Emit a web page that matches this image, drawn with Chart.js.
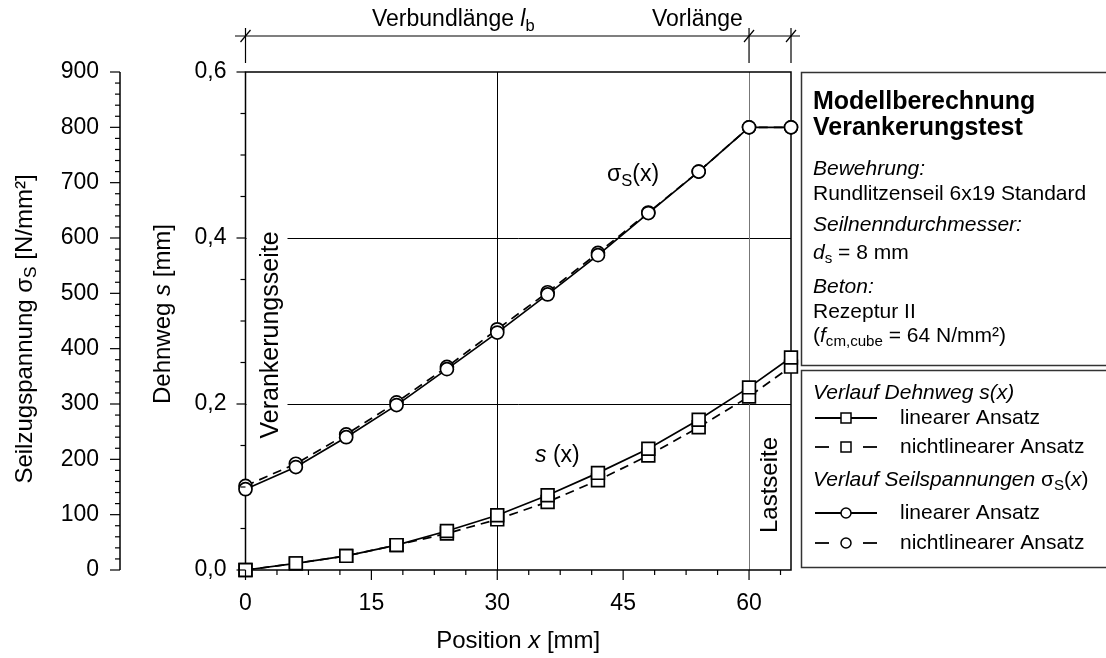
<!DOCTYPE html>
<html><head><meta charset="utf-8">
<script src="https://cdn.jsdelivr.net/npm/chart.js@4/dist/chart.umd.min.js"></script>
<style>html,body{margin:0;padding:0;background:#fff}#wrap{width:1106px;height:658px}</style>
</head><body><div id="wrap"><canvas id="c" width="1106" height="658"></canvas></div>
<script>
const FAMILY = '"Liberation Sans", Arial, Helvetica, sans-serif';

// ---- data ----
const positions        = [0, 6, 12, 18, 24, 30, 36, 42, 48, 54, 60, 65];
const dehnwegLinear    = [0, 0.008, 0.017, 0.030, 0.047, 0.066, 0.090, 0.117, 0.146, 0.181, 0.220, 0.256];
const dehnwegNonlinear = [0, 0.008, 0.017, 0.030, 0.044, 0.061, 0.082, 0.108, 0.138, 0.172, 0.209, 0.245];
const stressLinear     = [146, 186, 240, 298, 363, 429, 498, 569, 645, 720, 800, 800];
const stressNonlinear  = [152, 192, 245, 303, 367, 435, 502, 573, 646, 720, 800, 800];
const xTickValues       = [0, 15, 30, 45, 60];
const dehnwegTickValues = [0, 0.2, 0.4, 0.6];
const stressTickValues  = [0, 100, 200, 300, 400, 500, 600, 700, 800, 900];
const gridXValues = [30, 60];
const gridYValues = [0.2, 0.4];
const dimensionMarks = [0, 60, 65];

function pts(vals) { return positions.map((x, i) => ({ x: x, y: vals[i] })); }

// ---- helpers ----
function fontStr(st, size) {
  return (st.includes('i') ? 'italic ' : '') + (st.includes('b') ? 'bold ' : '') +
    (st.includes('s') ? size * 0.72 : size) + 'px ' + FAMILY;
}
function richWidth(ctx, parts, size) {
  let w = 0;
  parts.forEach(p => { ctx.font = fontStr(p[1] || '', size); w += ctx.measureText(p[0]).width; });
  return w;
}
function drawRich(ctx, x, y, parts, size, align) {
  const w = richWidth(ctx, parts, size);
  if (align === 'center') x -= w / 2;
  ctx.textBaseline = 'middle';
  ctx.textAlign = 'left';
  ctx.fillStyle = '#000';
  parts.forEach(p => {
    const st = p[1] || '';
    ctx.font = fontStr(st, size);
    const dy = st.includes('s') ? size * 0.28 : 0;
    ctx.fillText(p[0], x, y + dy);
    x += ctx.measureText(p[0]).width;
  });
}
function line(ctx, x1, y1, x2, y2) {
  ctx.beginPath(); ctx.moveTo(x1, y1); ctx.lineTo(x2, y2); ctx.stroke();
}

const deco = {
  id: 'deco',
  beforeDatasetsDraw(chart) {
    const { ctx, chartArea: ca, scales } = chart;
    const xs = scales.x, ys = scales.y;
    ctx.save();
    ctx.lineWidth = 1;
    gridYValues.forEach(v => {
      const py = Math.round(ys.getPixelForValue(v)) + 0.5;
      ctx.strokeStyle = '#000'; line(ctx, ca.left, py, ca.right, py);
    });
    gridXValues.forEach((v, i) => {
      const px = Math.round(xs.getPixelForValue(v)) + 0.5;
      ctx.strokeStyle = i === 0 ? '#000' : '#777'; line(ctx, px, ca.top, px, ca.bottom);
    });
    // Verankerungsseite with white background
    ctx.font = '25px ' + FAMILY;
    const tw = ctx.measureText('Verankerungsseite').width;
    const cy = 335;
    ctx.fillStyle = '#fff';
    ctx.fillRect(ca.left + 1, cy - tw / 2 - 5, 41, tw + 10);
    ctx.save(); ctx.translate(271, cy); ctx.rotate(-Math.PI / 2);
    drawRich(ctx, 0, 0, [['Verankerungsseite', '']], 25, 'center');
    ctx.restore();
    ctx.save(); ctx.translate(770, 485); ctx.rotate(-Math.PI / 2);
    drawRich(ctx, 0, 0, [['Lastseite', '']], 24, 'center');
    ctx.restore();
    // curve labels
    drawRich(ctx, 607, 175, [['σ', ''], ['S', 's'], ['(x)', '']], 23, 'left');
    drawRich(ctx, 535, 456, [['s', 'i'], [' (x)', '']], 23, 'left');
    // frame
    ctx.lineWidth = 1.5; ctx.strokeStyle = '#000';
    ctx.strokeRect(ca.left, ca.top, ca.right - ca.left, ca.bottom - ca.top);
    ctx.restore();
  },
  afterDraw(chart) {
    const { ctx, chartArea: ca, scales } = chart;
    const xs = scales.x, ys = scales.y, s2 = scales.y2;
    ctx.save();
    ctx.strokeStyle = '#000';
    ctx.lineWidth = 1.2;
    // x ticks
    for (let i = 0; i * 3.75 <= 65; i++) {
      const px = xs.getPixelForValue(i * 3.75);
      line(ctx, px, ca.bottom, px, ca.bottom + (i % 4 === 0 ? 10 : 5));
    }
    // dehnweg ticks
    for (let i = 0; i <= 12; i++) {
      const py = ys.getPixelForValue(i * 0.05);
      line(ctx, ca.left, py, ca.left - (i % 4 === 0 ? 9 : 5), py);
    }
    // stress axis
    const sx = s2.right;
    ctx.lineWidth = 1.5;
    line(ctx, sx, s2.getPixelForValue(0), sx, s2.getPixelForValue(900));
    ctx.lineWidth = 1.2;
    for (let i = 0; i <= 45; i++) {
      const py = s2.getPixelForValue(i * 20);
      line(ctx, sx, py, sx - (i % 5 === 0 ? 10 : 5), py);
    }
    // dimension line on top
    const dimY = 36;
    line(ctx, 235, dimY, 800, dimY);
    dimensionMarks.forEach(v => {
      const px = xs.getPixelForValue(v);
      line(ctx, px, 28, px, 63);
      line(ctx, px - 5, dimY + 6, px + 5, dimY - 6);
    });
    drawRich(ctx, 372, 20, [['Verbundlänge ', ''], ['l', 'i'], ['b', 's']], 23, 'left');
    drawRich(ctx, 652, 20, [['Vorlänge', '']], 23, 'left');
    // axis titles
    drawRich(ctx, (ca.left + ca.right) / 2, 641, [['Position ', ''], ['x', 'i'], [' [mm]', '']], 24, 'center');
    ctx.save(); ctx.translate(163, 314); ctx.rotate(-Math.PI / 2);
    drawRich(ctx, 0, 0, [['Dehnweg ', ''], ['s', 'i'], [' [mm]', '']], 24, 'center');
    ctx.restore();
    ctx.save(); ctx.translate(25, 329); ctx.rotate(-Math.PI / 2);
    drawRich(ctx, 0, 0, [['Seilzugspannung σ', ''], ['S', 's'], [' [N/mm²]', '']], 24, 'center');
    ctx.restore();
    // info box
    ctx.strokeStyle = '#333'; ctx.lineWidth = 1.5;
    ctx.strokeRect(801.5, 72.5, 330, 293);
    ctx.strokeRect(801.5, 370.5, 330, 197);
    const LX = 813, FS = 21;
    drawRich(ctx, LX, 102, [['Modellberechnung', 'b']], 25, 'left');
    drawRich(ctx, LX, 128, [['Verankerungstest', 'b']], 25, 'left');
    drawRich(ctx, LX, 169, [['Bewehrung:', 'i']], FS, 'left');
    drawRich(ctx, LX, 194, [['Rundlitzenseil 6x19 Standard', '']], FS, 'left');
    drawRich(ctx, LX, 225, [['Seilnenndurchmesser:', 'i']], FS, 'left');
    drawRich(ctx, LX, 253, [['d', 'i'], ['s', 's'], [' = 8 mm', '']], FS, 'left');
    drawRich(ctx, LX, 287, [['Beton:', 'i']], FS, 'left');
    drawRich(ctx, LX, 312, [['Rezeptur II', '']], FS, 'left');
    drawRich(ctx, LX, 336, [['(', ''], ['f', 'i'], ['cm,cube', 's'], [' = 64 N/mm²)', '']], FS, 'left');
    // legend
    drawRich(ctx, LX, 393, [['Verlauf Dehnweg s(x)', 'i']], FS, 'left');
    drawRich(ctx, LX, 480, [['Verlauf Seilspannungen ', 'i'], ['σ', ''], ['S', 's'], ['(', ''], ['x', 'i'], [')', '']], FS, 'left');
    const rows = [
      { y: 418, dash: false, shape: 'rect', text: 'linearer Ansatz' },
      { y: 447, dash: true, shape: 'rect', text: 'nichtlinearer Ansatz' },
      { y: 513, dash: false, shape: 'circle', text: 'linearer Ansatz' },
      { y: 543, dash: true, shape: 'circle', text: 'nichtlinearer Ansatz' }
    ];
    ctx.strokeStyle = '#000';
    rows.forEach(r => {
      ctx.lineWidth = 1.8;
      if (r.dash) {
        line(ctx, 815, r.y, 829, r.y); line(ctx, 863, r.y, 877, r.y);
      } else {
        line(ctx, 815, r.y, 877, r.y);
      }
      ctx.lineWidth = 1.5;
      ctx.fillStyle = '#fff';
      ctx.beginPath();
      if (r.shape === 'rect') ctx.rect(841, r.y - 5, 10, 10);
      else ctx.arc(846, r.y, 5, 0, Math.PI * 2);
      ctx.fill(); ctx.stroke();
      drawRich(ctx, 900, r.y, [[r.text, '']], FS, 'left');
    });
    ctx.restore();
  }
};

const base = {
  borderColor: '#000', borderWidth: 1.7, pointBackgroundColor: '#fff',
  pointBorderColor: '#000', pointBorderWidth: 1.7, tension: 0, clip: false, fill: false
};

const tickFont = { family: FAMILY, size: 23 };

new Chart(document.getElementById('c'), {
  type: 'line',
  data: {
    datasets: [
      Object.assign({}, base, { label: 's linear', data: pts(dehnwegLinear), yAxisID: 'y', pointStyle: 'rect', pointRadius: 9 }),
      Object.assign({}, base, { label: 'sigma linear', data: pts(stressLinear), yAxisID: 'y2', pointStyle: 'circle', pointRadius: 6.5 }),
      Object.assign({}, base, { label: 's nichtlinear', data: pts(dehnwegNonlinear), yAxisID: 'y', pointStyle: 'rect', pointRadius: 9, borderDash: [9, 6] }),
      Object.assign({}, base, { label: 'sigma nichtlinear', data: pts(stressNonlinear), yAxisID: 'y2', pointStyle: 'circle', pointRadius: 6.5, borderDash: [9, 6] })
    ]
  },
  options: {
    responsive: false, animation: false, devicePixelRatio: 1,
    layout: { padding: { left: 0, right: 315, top: 72, bottom: 0 } },
    plugins: { legend: { display: false }, tooltip: { enabled: false } },
    scales: {
      x: {
        type: 'linear', position: 'bottom', min: 0, max: 65,
        grid: { display: false, drawTicks: false }, border: { display: false },
        afterBuildTicks: s => { s.ticks = xTickValues.map(v => ({ value: v })); },
        ticks: { font: tickFont, color: '#000', padding: 20, maxRotation: 0, autoSkip: false },
        afterFit: s => { s.height = 88; }
      },
      y: {
        type: 'linear', position: 'left', min: 0, max: 0.6, weight: 0,
        grid: { display: false, drawTicks: false }, border: { display: false },
        afterBuildTicks: s => { s.ticks = dehnwegTickValues.map(v => ({ value: v })); },
        ticks: { font: tickFont, color: '#000', padding: 19, autoSkip: false,
          callback: v => v.toFixed(1).replace('.', ',') },
        afterFit: s => { s.width = 125.5; }
      },
      y2: {
        type: 'linear', position: 'left', min: 0, max: 900, weight: 1,
        grid: { display: false, drawTicks: false }, border: { display: false },
        afterBuildTicks: s => { s.ticks = stressTickValues.map(v => ({ value: v })); },
        ticks: { font: tickFont, color: '#000', padding: 21, autoSkip: false },
        afterFit: s => { s.width = 120; }
      }
    }
  },
  plugins: [deco]
});
</script>
</body></html>
